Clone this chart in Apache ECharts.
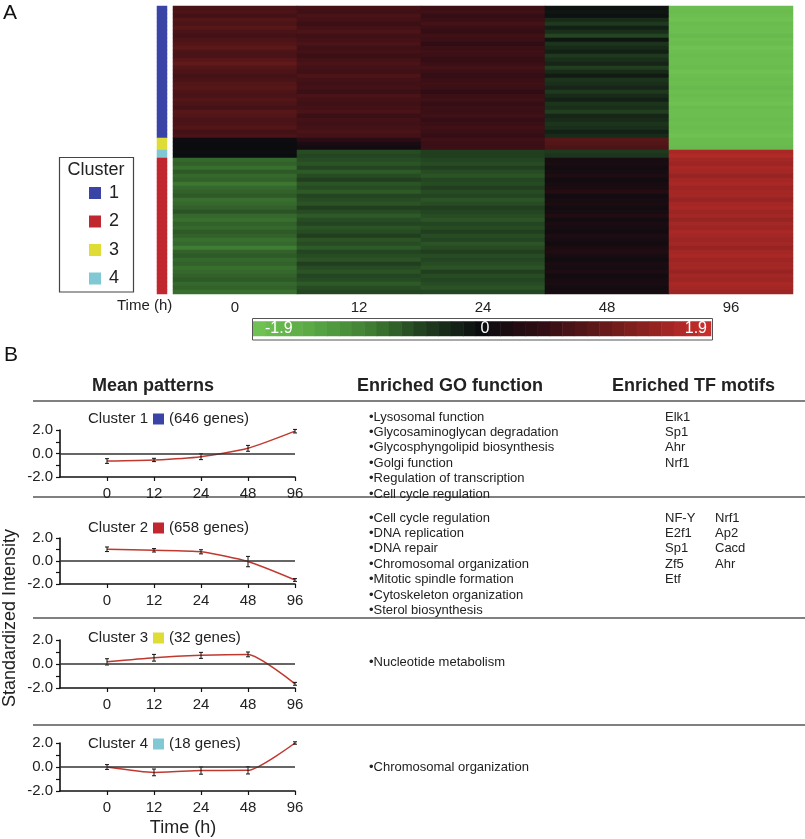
<!DOCTYPE html>
<html>
<head>
<meta charset="utf-8">
<script src="https://cdn.jsdelivr.net/npm/echarts@6/dist/echarts.min.js"></script>
<style>
html,body{margin:0;padding:0;background:#fff;}
#chart{width:805px;height:839px;}
</style>
</head>
<body>
<div id="chart"></div>
<script>
// ---------------- DATA ----------------
const timeLabels = ['0', '12', '24', '48', '96'];
const clusterIds = ['1', '2', '3', '4'];
const clusterColors = ['#3a44a6', '#c1272f', '#e0dc36', '#80c9d4'];
const clusterGenes = [646, 658, 32, 18];
// order of cluster blocks in the heatmap (top to bottom) and displayed rows per block
const heatClusterOrder = [1, 3, 4, 2];
const heatRowsPerBlock = [33, 3, 2, 34];

// heatmap values per time column (rows top to bottom)
const heat0h = [0.75,0.8,0.7,0.85,0.8,0.9,0.75,0.7,0.8,0.85,0.95,0.8,0.75,0.9,1.0,0.85,0.8,0.7,0.75,0.85,0.9,0.8,0.75,0.85,0.8,0.7,0.9,0.85,0.75,0.8,0.85,0.7,0.75,
  0.05,0.0,0.02, -0.02,0.0,
  -0.8,-0.75,-0.85,-0.7,-0.8,-0.75,-0.9,-0.8,-0.75,-0.7,-0.85,-0.8,-0.75,-0.65,-0.8,-0.85,-0.75,-0.8,-0.7,-0.75,-0.85,-0.8,-0.95,-0.75,-0.7,-0.8,-0.75,-0.85,-0.8,-0.75,-0.7,-0.8,-0.75,-0.85];
const heat12h = [0.7,0.65,0.75,0.7,0.6,0.7,0.8,0.65,0.7,0.75,0.65,0.7,0.6,0.7,0.75,0.7,0.65,0.8,0.7,0.65,0.7,0.6,0.75,0.7,0.65,0.7,0.75,0.6,0.7,0.65,0.7,0.75,0.7,
  0.45,0.2,0.1, -0.6,-0.55,
  -0.6,-0.65,-0.55,-0.7,-0.6,-0.5,-0.65,-0.6,-0.7,-0.55,-0.6,-0.65,-0.5,-0.6,-0.7,-0.6,-0.55,-0.65,-0.6,-0.5,-0.65,-0.6,-0.7,-0.55,-0.6,-0.65,-0.5,-0.6,-0.65,-0.55,-0.6,-0.7,-0.6,-0.55];
const heat24h = [0.6,0.65,0.55,0.6,0.7,0.6,0.55,0.65,0.6,0.5,0.6,0.65,0.6,0.55,0.6,0.7,0.6,0.55,0.6,0.65,0.6,0.5,0.6,0.65,0.55,0.6,0.6,0.65,0.55,0.6,0.65,0.6,0.55,
  0.65,0.6,0.6, -0.5,-0.5,
  -0.55,-0.6,-0.5,-0.6,-0.65,-0.55,-0.6,-0.5,-0.6,-0.55,-0.65,-0.6,-0.5,-0.55,-0.6,-0.65,-0.55,-0.6,-0.5,-0.6,-0.55,-0.65,-0.6,-0.5,-0.6,-0.55,-0.6,-0.65,-0.5,-0.6,-0.55,-0.6,-0.65,-0.55];
const heat48h = [-0.05,-0.1,-0.05,-0.3,-0.45,-0.2,-0.35,-0.55,-0.1,-0.4,-0.3,-0.2,-0.45,-0.35,-0.25,-0.5,-0.3,-0.15,-0.4,-0.35,-0.25,-0.45,-0.3,-0.2,-0.4,-0.35,-0.5,-0.25,-0.3,-0.4,-0.35,-0.2,-0.3,
  0.9,0.85,0.8, -0.45,-0.4,
  0.15,0.2,0.1,0.15,0.25,0.1,0.15,0.2,0.35,0.1,0.15,0.2,0.1,0.15,0.3,0.1,0.2,0.15,0.1,0.25,0.15,0.1,0.2,0.3,0.15,0.1,0.2,0.15,0.25,0.1,0.15,0.2,0.1,0.15];
const heat96h = [-1.85,-1.8,-1.85,-1.9,-1.8,-1.85,-1.85,-1.75,-1.85,-1.8,-1.9,-1.85,-1.8,-1.85,-1.85,-1.8,-1.9,-1.85,-1.8,-1.85,-1.75,-1.85,-1.8,-1.85,-1.9,-1.8,-1.85,-1.85,-1.8,-1.85,-1.8,-1.85,-1.9,
  -1.8,-1.8,-1.75, 1.65,1.7,
  1.6,1.55,1.65,1.6,1.5,1.6,1.65,1.55,1.6,1.6,1.5,1.6,1.65,1.55,1.6,1.5,1.6,1.55,1.65,1.6,1.55,1.6,1.5,1.6,1.65,1.55,1.6,1.6,1.5,1.6,1.55,1.65,1.6,1.55];

// colour-scale legend steps
const colorbarSteps = [-1.9,-1.79,-1.69,-1.58,-1.48,-1.37,-1.27,-1.16,-1.06,-0.95,-0.84,-0.74,-0.63,-0.53,-0.42,-0.32,-0.21,-0.11,0,
  0.11,0.21,0.32,0.42,0.53,0.63,0.74,0.84,0.95,1.06,1.16,1.27,1.37,1.48,1.58,1.69,1.79,1.9];
const colorbarLabels = ['-1.9', '0', '1.9'];

// mean patterns (standardized intensity) and error bars
const mean1 = [-0.64, -0.55, -0.27, 0.44, 1.9];  const err1 = [0.2, 0.14, 0.25, 0.25, 0.15];
const mean2 = [1.02, 0.93, 0.8, -0.05, -1.65];   const err2 = [0.2, 0.15, 0.18, 0.45, 0.12];
const mean3 = [0.18, 0.52, 0.72, 0.8, -1.65];    const err3 = [0.26, 0.28, 0.25, 0.2, 0.12];
const mean4 = [0.0, -0.45, -0.3, -0.28, 2.0];    const err4 = [0.2, 0.28, 0.3, 0.3, 0.1];

const goTerms1 = ['Lysosomal function', 'Glycosaminoglycan degradation', 'Glycosphyngolipid biosynthesis', 'Golgi function', 'Regulation of transcription', 'Cell cycle regulation'];
const goTerms2 = ['Cell cycle regulation', 'DNA replication', 'DNA repair', 'Chromosomal organization', 'Mitotic spindle formation', 'Cytoskeleton organization', 'Sterol biosynthesis'];
const goTerms3 = ['Nucleotide metabolism'];
const goTerms4 = ['Chromosomal organization'];
const tfMotifs1 = ['Elk1', 'Sp1', 'Ahr', 'Nrf1'];
const tfMotifs2a = ['NF-Y', 'E2f1', 'Sp1', 'Zf5', 'Etf'];
const tfMotifs2b = ['Nrf1', 'Ap2', 'Cacd', 'Ahr'];

// ---------------- LAYOUT / BUILD ----------------
const FONT = '"Liberation Sans", Arial, Helvetica, sans-serif';
const TXT = '#222';
const heatCols = [heat0h, heat12h, heat24h, heat48h, heat96h];
const rowCats = heat0h.map((_, i) => String(i));

const clusterBarData = [];
let r = 0;
heatClusterOrder.forEach((cid, bi) => {
  for (let k = 0; k < heatRowsPerBlock[bi]; k++) { clusterBarData.push([0, r, cid]); r++; }
});
const heatData = [];
heatCols.forEach((col, c) => col.forEach((v, ri) => heatData.push([c, ri, v])));
const colorbarData = colorbarSteps.map((v, i) => [i, 0, v]);

const means = [mean1, mean2, mean3, mean4];
const errs = [err1, err2, err3, err4];
const lineGrids = [
  { top: 430, height: 47 },
  { top: 538, height: 46 },
  { top: 640, height: 48 },
  { top: 743, height: 48 }
];
const titleCenters = [418, 527, 637, 743];

const grids = [
  { left: 157, top: 6, width: 10, height: 288 },   // cluster bar
  { left: 173, top: 6, width: 620, height: 288 },  // heatmap
  { left: 253, top: 321.5, width: 458, height: 14.5 } // colour bar
];
lineGrids.forEach(g => grids.push({ left: 60, top: g.top, width: 235, height: g.height }));

const xAxes = [
  { gridIndex: 0, type: 'category', data: ['c'], show: false },
  { gridIndex: 1, type: 'category', data: timeLabels, position: 'bottom',
    axisLine: { show: false }, axisTick: { show: false },
    axisLabel: { fontSize: 15, color: TXT, fontFamily: FONT, margin: 6 } },
  { gridIndex: 2, type: 'category', data: colorbarSteps.map(String), show: false }
];
const yAxes = [
  { gridIndex: 0, type: 'category', data: rowCats, inverse: true, show: false },
  { gridIndex: 1, type: 'category', data: rowCats, inverse: true, show: false },
  { gridIndex: 2, type: 'category', data: ['s'], show: false }
];
lineGrids.forEach((g, i) => {
  xAxes.push({
    gridIndex: 3 + i, type: 'value', min: -1, max: 4, interval: 1, position: 'bottom',
    axisLine: { show: true, onZero: false, lineStyle: { color: '#111', width: 1.6 } },
    axisTick: { show: true, length: 4, lineStyle: { color: '#111', width: 1.2 }, customValues: [0, 1, 2, 3, 4] },
    axisLabel: { fontSize: 15, color: TXT, fontFamily: FONT, margin: 9,
      formatter: v => (v >= 0 ? timeLabels[Math.round(v)] : '') },
    splitLine: { show: false }
  });
  yAxes.push({
    gridIndex: 3 + i, type: 'value', min: -2, max: 2, interval: 1, position: 'left',
    axisLine: { show: true, onZero: false, lineStyle: { color: '#111', width: 1.6 } },
    axisTick: { show: true, length: 4, lineStyle: { color: '#111', width: 1.2 } },
    axisLabel: { fontSize: 15, color: TXT, fontFamily: FONT, margin: 7,
      formatter: v => (Math.round(v) % 2 === 0 ? v.toFixed(1) : '') },
    splitLine: { show: false }
  });
});

const series = [
  { type: 'heatmap', xAxisIndex: 0, yAxisIndex: 0, data: clusterBarData, emphasis: { disabled: true }, progressive: 0 },
  { type: 'heatmap', xAxisIndex: 1, yAxisIndex: 1, data: heatData, emphasis: { disabled: true }, progressive: 0 },
  { type: 'heatmap', xAxisIndex: 2, yAxisIndex: 2, data: colorbarData, emphasis: { disabled: true }, progressive: 0 }
];
means.forEach((m, i) => {
  series.push({
    type: 'line', xAxisIndex: 3 + i, yAxisIndex: 3 + i,
    data: m.map((v, k) => [k, v]), smooth: 0.2, symbol: 'none',
    lineStyle: { color: '#c0392f', width: 1.5 },
    markLine: { silent: true, symbol: ['none', 'none'], label: { show: false },
      lineStyle: { color: '#333', width: 1.6, type: 'solid' }, data: [{ yAxis: 0 }] },
    z: 3
  });
  series.push({
    type: 'custom', xAxisIndex: 3 + i, yAxisIndex: 3 + i,
    data: m.map((v, k) => [k, v - errs[i][k], v + errs[i][k]]),
    renderItem: (params, api) => {
      const lo = api.coord([api.value(0), api.value(1)]);
      const hi = api.coord([api.value(0), api.value(2)]);
      const st = { stroke: '#111', lineWidth: 1 };
      return { type: 'group', children: [
        { type: 'line', shape: { x1: lo[0], y1: lo[1], x2: hi[0], y2: hi[1] }, style: st },
        { type: 'line', shape: { x1: lo[0] - 2, y1: lo[1], x2: lo[0] + 2, y2: lo[1] }, style: st },
        { type: 'line', shape: { x1: hi[0] - 2, y1: hi[1], x2: hi[0] + 2, y2: hi[1] }, style: st }
      ]};
    },
    z: 4
  });
});

// titles for each mean-pattern panel
const titles = clusterIds.map((id, i) => ({
  left: 88, top: titleCenters[i] - 8, padding: 0,
  text: '{t|Cluster ' + id + '} {sq|} {t|(' + clusterGenes[i] + ' genes)}',
  textStyle: { fontWeight: 'normal', rich: {
    t: { fontSize: 15, fontFamily: FONT, color: TXT, lineHeight: 16, fontWeight: 'normal' },
    sq: { width: 11, height: 11, backgroundColor: clusterColors[i] }
  } }
}));

function textEl(x, y, text, opts) {
  return Object.assign({ type: 'text', x: x, y: y, silent: true, z: 100,
    style: Object.assign({ text: text, fill: TXT, font: '13px ' + FONT, align: 'left', verticalAlign: 'middle' }, opts || {}) });
}
function listEl(x, yFirst, items, bullet) {
  const lh = 15.4;
  return items.map((t, k) => textEl(x, yFirst + k * lh, (bullet ? '\u2022' : '') + t));
}

const graphics = [
  textEl(3, 13, 'A', { font: '21px ' + FONT, fill: '#111' }),
  textEl(4, 355, 'B', { font: '21px ' + FONT, fill: '#111' }),
  // cluster legend box
  { type: 'rect', shape: { x: 59.5, y: 157.5, width: 74, height: 134.5 }, style: { fill: 'none', stroke: '#444', lineWidth: 1.2 }, silent: true },
  textEl(96, 170, 'Cluster', { font: '18px ' + FONT, align: 'center' }),
  textEl(117, 306, 'Time (h)', { font: '15px ' + FONT }),
  // colour bar frame and labels
  { type: 'rect', shape: { x: 252.5, y: 318.5, width: 460, height: 21.5 }, style: { fill: 'none', stroke: '#555', lineWidth: 1 }, silent: true, z: 100 },
  textEl(265, 329, colorbarLabels[0], { font: '16px ' + FONT, fill: '#fff' }),
  textEl(485, 329, colorbarLabels[1], { font: '16px ' + FONT, fill: '#fff', align: 'center' }),
  textEl(707, 329, colorbarLabels[2], { font: '16px ' + FONT, fill: '#fff', align: 'right' }),
  // headers
  textEl(92, 386, 'Mean patterns', { font: 'bold 18px ' + FONT }),
  textEl(357, 386, 'Enriched GO function', { font: 'bold 18px ' + FONT }),
  textEl(612, 386, 'Enriched TF motifs', { font: 'bold 18px ' + FONT }),
  // axis titles
  { type: 'text', x: 10, y: 618, rotation: Math.PI / 2, silent: true,
    style: { text: 'Standardized Intensity', font: '18px ' + FONT, fill: TXT, align: 'center', verticalAlign: 'middle' } },
  textEl(183, 828, 'Time (h)', { font: '18px ' + FONT, align: 'center' })
];
[401, 497, 618, 725].forEach(y => graphics.push({ type: 'line', silent: true,
  shape: { x1: 33, y1: y, x2: 805, y2: y }, style: { stroke: '#808080', lineWidth: 2 } }));
graphics.push(...listEl(369, 417, goTerms1, true));
graphics.push(...listEl(369, 518, goTerms2, true));
graphics.push(...listEl(369, 662, goTerms3, true));
graphics.push(...listEl(369, 767, goTerms4, true));
graphics.push(...listEl(665, 417, tfMotifs1, false));
graphics.push(...listEl(665, 518, tfMotifs2a, false));
graphics.push(...listEl(715, 518, tfMotifs2b, false));

const option = {
  animation: false,
  backgroundColor: '#fff',
  title: titles,
  grid: grids,
  xAxis: xAxes,
  yAxis: yAxes,
  visualMap: [
    { type: 'continuous', min: -1.9, max: 1.9, seriesIndex: [1, 2], show: false,
      inRange: { color: ['#6fc152', '#58a744', '#3f7d33', '#1f3b1e', '#0b0c0f', '#2e0c14', '#5c1819', '#8e2220', '#c82f2c'] } },
    { type: 'piecewise', seriesIndex: 0, show: true, orient: 'vertical', inverse: true,
      left: 89, top: 184, itemWidth: 12, itemHeight: 12, itemGap: 10.5, itemSymbol: 'rect',
      textGap: 8, align: 'left', selectedMode: false, padding: 0,
      textStyle: { fontSize: 18, color: TXT, fontFamily: FONT },
      pieces: clusterIds.map((id, i) => ({ value: i + 1, label: id, color: clusterColors[i] })) }
  ],
  graphic: graphics,
  series: series
};

const chart = echarts.init(document.getElementById('chart'), null, { renderer: 'canvas' });
chart.setOption(option);
</script>
</body>
</html>
